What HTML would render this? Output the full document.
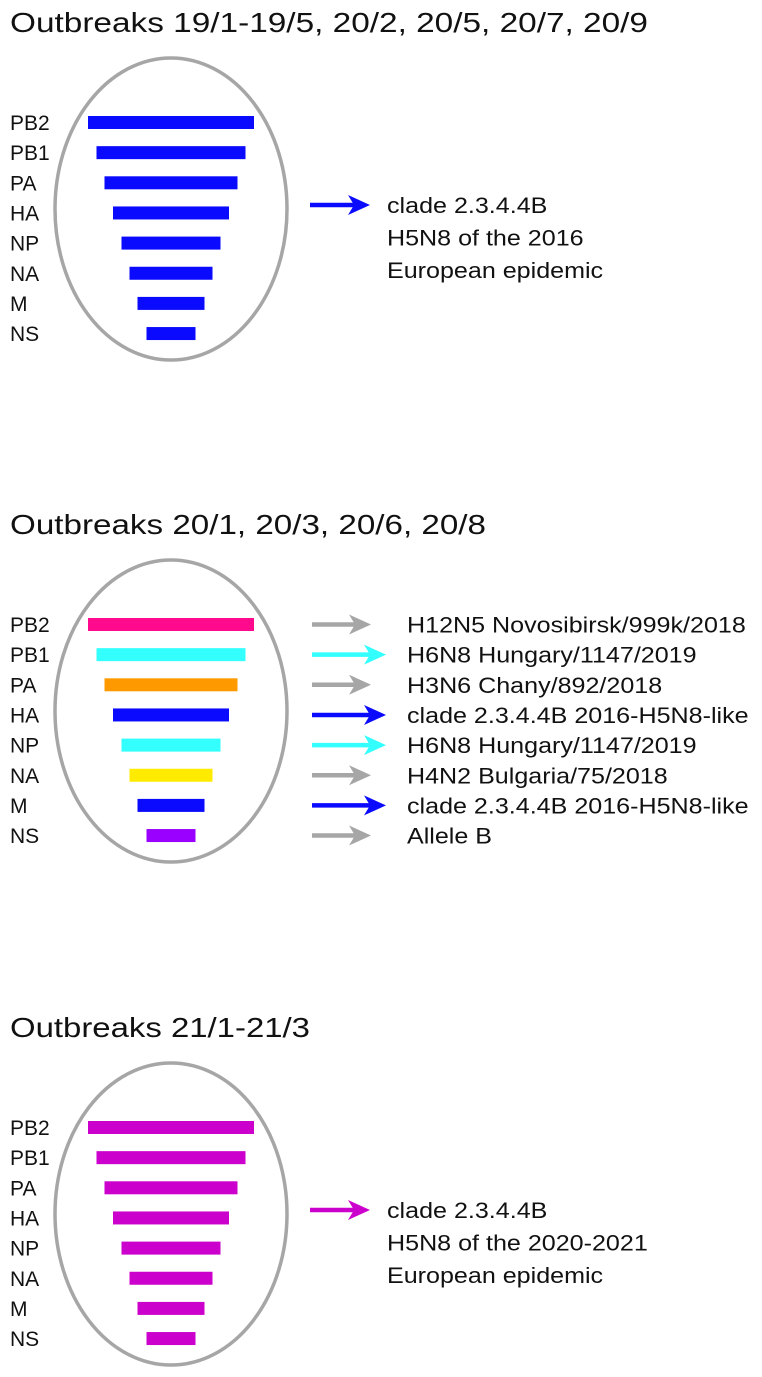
<!DOCTYPE html>
<html><head><meta charset="utf-8"><style>
html,body{margin:0;padding:0;background:#fff;}
svg{display:block;font-family:"Liberation Sans",sans-serif;}
</style></head><body>
<svg id="fig" width="762" height="1377" viewBox="0 0 762 1377" xmlns="http://www.w3.org/2000/svg"></svg>
<script>
const segments = ["PB2","PB1","PA","HA","NP","NA","M","NS"];
const segmentLengths = [166, 149, 133, 116, 99, 83, 67, 49];
const panelTitles = ["Outbreaks 19/1-19/5, 20/2, 20/5, 20/7, 20/9","Outbreaks 20/1, 20/3, 20/6, 20/8","Outbreaks 21/1-21/3"];
const titleWidths = [638, 476, 300];
const panel1Colors = ["#0a0aff","#0a0aff","#0a0aff","#0a0aff","#0a0aff","#0a0aff","#0a0aff","#0a0aff"];
const panel2Colors = ["#ff0a8c","#33ffff","#ff9900","#0a0aff","#33ffff","#ffeb00","#0a0aff","#9900ff"];
const panel3Colors = ["#cc00cc","#cc00cc","#cc00cc","#cc00cc","#cc00cc","#cc00cc","#cc00cc","#cc00cc"];
const panel2Arrows = ["#a6a6a6","#33ffff","#a6a6a6","#0a0aff","#33ffff","#a6a6a6","#0a0aff","#a6a6a6"];
const panel2Origins = ["H12N5 Novosibirsk/999k/2018","H6N8 Hungary/1147/2019","H3N6 Chany/892/2018","clade 2.3.4.4B 2016-H5N8-like","H6N8 Hungary/1147/2019","H4N2 Bulgaria/75/2018","clade 2.3.4.4B 2016-H5N8-like","Allele B"];
const panel1Text = ["clade 2.3.4.4B","H5N8 of the 2016","European epidemic"];
const panel3Text = ["clade 2.3.4.4B","H5N8 of the 2020-2021","European epidemic"];

const NS="http://www.w3.org/2000/svg";
const svg=document.getElementById('fig');
const offsets=[0,502,1005];
function mk(tag,attrs,parent){const e=document.createElementNS(NS,tag);for(const k in attrs)e.setAttribute(k,attrs[k]);(parent||svg).appendChild(e);return e;}
function stretch(t,r){const w=t.getComputedTextLength();t.setAttribute('textLength',(w*r).toFixed(1));t.setAttribute('lengthAdjust','spacingAndGlyphs');}
function arrow(g,x1,x2,y,color){
  const a=mk('g',{},g);
  
  
  mk('line',{x1:x1,y1:y,x2:x2-12,y2:y,stroke:color,'stroke-width':4.5},a);
  mk('polygon',{points:`${x2},${y} ${x2-22},${y-10} ${x2-16},${y} ${x2-22},${y+10}`,fill:color},a);
}
const cx=171;
[panel1Colors,panel2Colors,panel3Colors].forEach((cols,p)=>{
  const y0=offsets[p];
  const g=mk('g',{});
  
  
  const t=mk('text',{x:10,y:y0+32,'font-size':28,fill:'#111',textLength:titleWidths[p],lengthAdjust:'spacingAndGlyphs'},g);
  t.textContent=panelTitles[p];
  
  
  const el=mk('ellipse',{cx:cx,cy:y0+209,rx:116,ry:151,fill:'none',stroke:'#a6a6a6','stroke-width':3.5},g);
  
  
  segments.forEach((s,i)=>{
    const yc=y0+122.5+i*30.15;
    const lab=mk('text',{x:10,y:yc+7.5,'font-size':21,fill:'#111'},g);
    lab.textContent=s;
    
    
    const L=segmentLengths[i];
    const r=mk('rect',{x:cx-L/2,y:yc-6.5,width:L,height:13,fill:cols[i]},g);
    
    
    if(p===1){
      const ac=panel2Arrows[i];
      arrow(g,312,ac==='#a6a6a6'?371:386,yc,ac);
      const ot=mk('text',{x:407,y:yc+8,'font-size':22,fill:'#111'},g);
      ot.textContent=panel2Origins[i];
      
      
      stretch(ot,1.14);
    }
  });
  if(p!==1){
    const lines=p===0?panel1Text:panel3Text;
    arrow(g,310,370,y0+205,cols[0]);
    lines.forEach((l,k)=>{
      const tt=mk('text',{x:387,y:y0+213+k*32.5,'font-size':22,fill:'#111'},g);
      tt.textContent=l;
      
      
      stretch(tt,1.14);
    });
  }
});
</script>
</body></html>
